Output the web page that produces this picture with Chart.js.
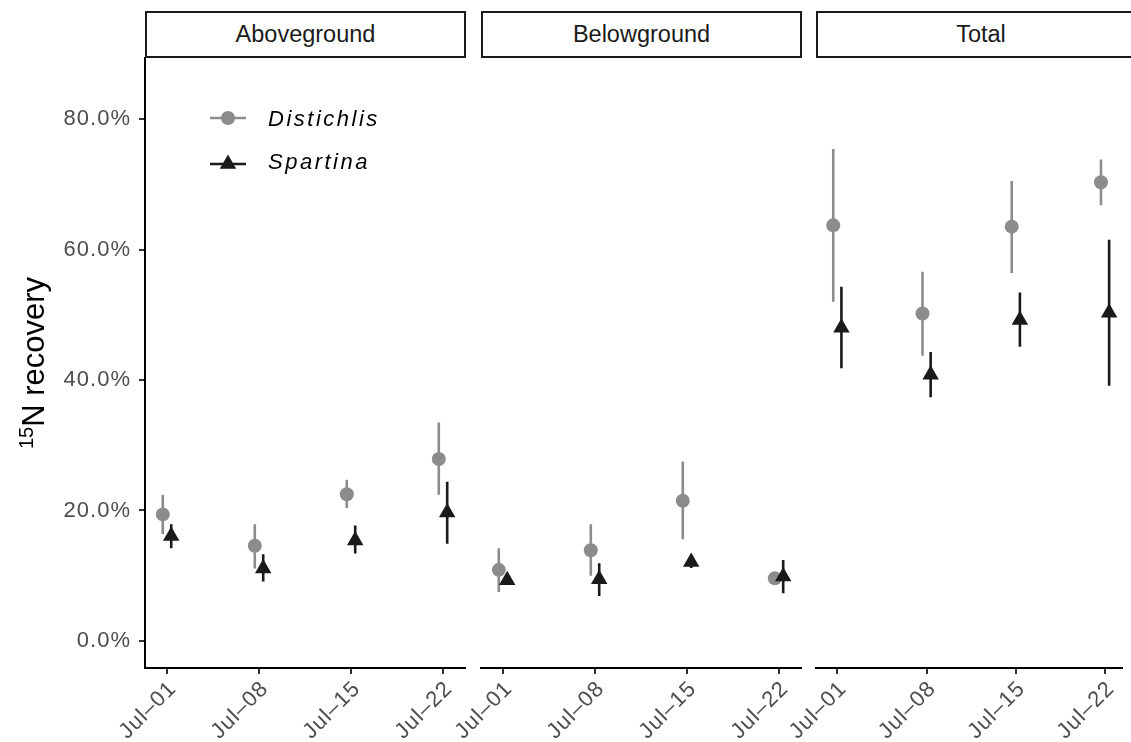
<!DOCTYPE html>
<html>
<head>
<meta charset="utf-8">
<script src="https://cdn.jsdelivr.net/npm/chart.js@4.4.1/dist/chart.umd.min.js"></script>
<style>
  html, body { margin: 0; padding: 0; background: #fff; overflow: hidden; }
  #wrap { position: relative; width: 1131px; height: 742px; overflow: hidden; }
  #wrap canvas { position: absolute; left: 0; top: 0; }
  .strip {
    position: absolute; top: 11px; height: 47px; box-sizing: border-box;
    border: 2.5px solid #1a1a1a; color: #1a1a1a;
    font: 23.5px "Liberation Sans", Arial, Helvetica, sans-serif;
    display: flex; align-items: center; justify-content: center;
  }
</style>
</head>
<body>
<div id="wrap"></div>
<script>
// sampling dates (days after Jul 1) and their labels
const days = [0, 7, 14, 21];
const tickLabels = ['Jul–01', 'Jul–08', 'Jul–15', 'Jul–22'];
const panels = ['Aboveground', 'Belowground', 'Total'];
const yTicks = [0, 20, 40, 60, 80];

// Distichlis: mean and error bar limits (% 15N recovery)
const distAbove = [19.4, 14.6, 22.5, 27.9];
const distAboveLo = [16.4, 11.1, 20.4, 22.4];
const distAboveHi = [22.4, 17.9, 24.7, 33.5];
const distBelow = [10.9, 13.9, 21.5, 9.6];
const distBelowLo = [7.5, 10.0, 15.6, 9.3];
const distBelowHi = [14.2, 17.9, 27.5, 9.9];
const distTotal = [63.7, 50.2, 63.5, 70.3];
const distTotalLo = [52.0, 43.7, 56.4, 66.8];
const distTotalHi = [75.4, 56.6, 70.5, 73.8];

// Spartina
const sparAbove = [16.1, 11.1, 15.4, 19.7];
const sparAboveLo = [14.2, 9.1, 13.4, 14.9];
const sparAboveHi = [17.9, 13.3, 17.7, 24.4];
const sparBelow = [9.3, 9.45, 12.1, 9.9];
const sparBelowLo = [9.0, 6.9, 11.2, 7.3];
const sparBelowHi = [9.6, 11.9, 12.8, 12.4];
const sparTotal = [48.0, 40.8, 49.2, 50.3];
const sparTotalLo = [41.8, 37.35, 45.1, 39.1];
const sparTotalHi = [54.3, 44.3, 53.4, 61.5];

const panelData = [
  { dist: [distAbove, distAboveLo, distAboveHi], spar: [sparAbove, sparAboveLo, sparAboveHi] },
  { dist: [distBelow, distBelowLo, distBelowHi], spar: [sparBelow, sparBelowLo, sparBelowHi] },
  { dist: [distTotal, distTotalLo, distTotalHi], spar: [sparTotal, sparTotalLo, sparTotalHi] }
];

const GREY = '#8c8c8c';
const DARK = '#1a1a1a';
const FONT = '"Liberation Sans", Arial, Helvetica, sans-serif';
const W = 1131, H = 742;
const dodge = 0.32;

// panel geometry
const panelLeft = [145, 481, 816];
const panelRight = [465, 801, 1131];
const xMin = -1.674;
const xMax = [22.674, 22.674, 22.29];
const yMin = -4.14, yMax = 89.35;

function errorSegments(lo, hi, shift) {
  const pts = [];
  days.forEach((d, k) => {
    pts.push({ x: d + shift, y: lo[k] }, { x: d + shift, y: hi[k] }, { x: d + shift, y: null });
  });
  return pts;
}
function meanPoints(mean, shift) {
  return days.map((d, k) => ({ x: d + shift, y: mean[k] }));
}

const spacingPlugin = {
  id: 'spacing',
  beforeLayout(chart) { chart.ctx.letterSpacing = '1px'; },
  beforeDraw(chart) { chart.ctx.letterSpacing = '1px'; }
};

function drawTriangle(ctx, x, y, r) {
  let rad = 0;
  ctx.beginPath();
  ctx.moveTo(x + Math.sin(rad) * r, y - Math.cos(rad) * r);
  rad += 2 * Math.PI / 3;
  ctx.lineTo(x + Math.sin(rad) * r, y - Math.cos(rad) * r);
  rad += 2 * Math.PI / 3;
  ctx.lineTo(x + Math.sin(rad) * r, y - Math.cos(rad) * r);
  ctx.closePath();
  ctx.fill();
}

// legend keys and y title, drawn on the first panel
const decorPlugin = {
  id: 'decor',
  afterDraw(chart) {
    const ctx = chart.ctx;
    ctx.save();
    ctx.letterSpacing = '0px';
    // y axis title with superscript
    const cy = (chart.chartArea.top + chart.chartArea.bottom) / 2;
    ctx.translate(44, cy);
    ctx.rotate(-Math.PI / 2);
    ctx.fillStyle = '#000';
    ctx.font = '20px ' + FONT;
    const supW = ctx.measureText('15').width;
    ctx.font = '31px ' + FONT;
    const mainW = ctx.measureText('N recovery').width;
    const start = -(supW + mainW) / 2;
    ctx.textBaseline = 'alphabetic';
    ctx.textAlign = 'left';
    ctx.font = '20px ' + FONT;
    ctx.fillText('15', start, -11);
    ctx.font = '31px ' + FONT;
    ctx.fillText('N recovery', start + supW, 0);
    ctx.restore();

    // legend
    const rows = [
      { label: 'Distichlis', color: GREY, style: 'circle', y: 118, base: 126 },
      { label: 'Spartina', color: DARK, style: 'triangle', y: 164, base: 169 }
    ];
    rows.forEach(r => {
      ctx.save();
      ctx.strokeStyle = r.color;
      ctx.fillStyle = r.color;
      ctx.lineWidth = 2.6;
      ctx.beginPath();
      ctx.moveTo(210, r.y);
      ctx.lineTo(246, r.y);
      ctx.stroke();
      if (r.style === 'circle') {
        ctx.beginPath();
        ctx.arc(228, r.y, 7, 0, Math.PI * 2);
        ctx.fill();
      } else {
        drawTriangle(ctx, 228, r.y, 9.5);
      }
      ctx.fillStyle = '#000';
      ctx.letterSpacing = '2.5px';
      ctx.font = 'italic 22px ' + FONT;
      ctx.textAlign = 'left';
      ctx.textBaseline = 'alphabetic';
      ctx.fillText(r.label, 268, r.base);
      ctx.restore();
    });
  }
};

const wrap = document.getElementById('wrap');

panels.forEach((name, i) => {
  const strip = document.createElement('div');
  strip.className = 'strip';
  strip.style.left = panelLeft[i] + 'px';
  strip.style.width = (i === 2 ? 330 : panelRight[i] - panelLeft[i] + 1) + 'px';
  strip.textContent = name;
  wrap.appendChild(strip);
});

panels.forEach((name, i) => {
  const canvas = document.createElement('canvas');
  canvas.width = W;
  canvas.height = H;
  wrap.appendChild(canvas);
  const pd = panelData[i];

  const axisGrid = {
    display: true, drawOnChartArea: false, drawTicks: true,
    tickLength: 6, color: '#333', lineWidth: 2
  };
  const axisBorder = { display: true, color: '#000', width: 2 };

  new Chart(canvas.getContext('2d'), {
    type: 'scatter',
    data: {
      datasets: [
        {
          type: 'line', label: 'Distichlis range',
          data: errorSegments(pd.dist[1], pd.dist[2], -dodge),
          borderColor: GREY, borderWidth: 2.6, pointRadius: 0,
          spanGaps: false, fill: false, order: 2
        },
        {
          type: 'line', label: 'Spartina range',
          data: errorSegments(pd.spar[1], pd.spar[2], dodge),
          borderColor: DARK, borderWidth: 2.6, pointRadius: 0,
          spanGaps: false, fill: false, order: 2
        },
        {
          label: 'Distichlis',
          data: meanPoints(pd.dist[0], -dodge),
          pointStyle: 'circle', pointRadius: 7,
          backgroundColor: GREY, borderColor: GREY, pointBorderWidth: 0,
          order: 1
        },
        {
          label: 'Spartina',
          data: meanPoints(pd.spar[0], dodge),
          pointStyle: 'triangle', pointRadius: 9.5,
          backgroundColor: DARK, borderColor: DARK, pointBorderWidth: 0,
          order: 0
        }
      ]
    },
    options: {
      responsive: false,
      animation: false,
      events: [],
      layout: {
        padding: { left: i === 0 ? 0 : panelLeft[i], right: W - panelRight[i], top: 58, bottom: 0 }
      },
      plugins: { legend: { display: false }, tooltip: { enabled: false } },
      scales: {
        x: {
          type: 'linear', min: xMin, max: xMax[i],
          afterBuildTicks: s => { s.ticks = days.map(v => ({ value: v })); },
          afterFit: s => { s.height = 74; s.paddingLeft = 0; s.paddingRight = 0; },
          grid: axisGrid,
          border: axisBorder,
          ticks: {
            autoSkip: false, minRotation: 45, maxRotation: 45, padding: 2, labelOffset: 6,
            color: '#4d4d4d', font: { family: FONT, size: 22 },
            callback: v => { const k = days.indexOf(v); return k >= 0 ? tickLabels[k] : ''; }
          }
        },
        y: {
          display: i === 0,
          position: 'left',
          min: yMin, max: yMax,
          afterBuildTicks: s => { s.ticks = yTicks.map(v => ({ value: v })); },
          afterFit: s => { if (i === 0) s.width = 145; s.paddingTop = 0; s.paddingBottom = 0; },
          grid: axisGrid,
          border: axisBorder,
          ticks: {
            padding: 8, color: '#4d4d4d', font: { family: FONT, size: 22 },
            callback: v => v.toFixed(1) + '%'
          }
        }
      }
    },
    plugins: i === 0 ? [spacingPlugin, decorPlugin] : [spacingPlugin]
  });
});
</script>
</body>
</html>
